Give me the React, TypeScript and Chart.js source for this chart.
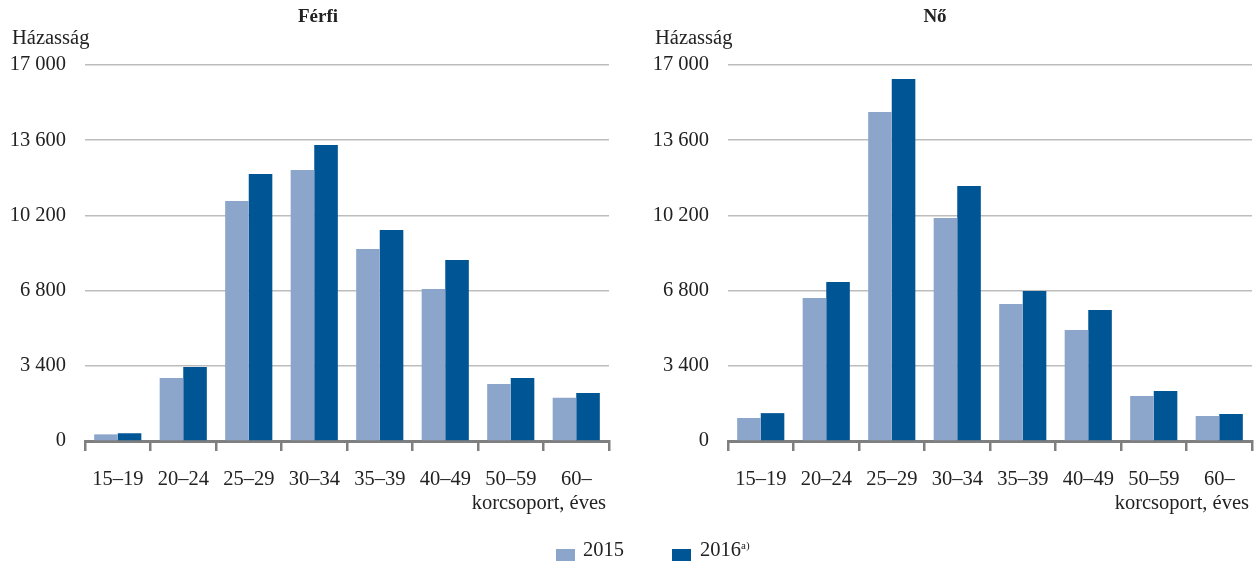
import React, { useEffect, useRef } from "react";
import { Chart, registerables } from "chart.js";

Chart.register(...registerables);

const categories = ["15–19", "20–24", "25–29", "30–34", "35–39", "40–49", "50–59", "60–"];
const seriesLabels = ["2015", "2016"];
const ferfi2015 = [300, 2850, 10850, 12250, 8680, 6870, 2580, 1950];
const ferfi2016 = [350, 3350, 12070, 13380, 9540, 8180, 2850, 2170];
const no2015 = [1040, 6470, 14870, 10080, 6190, 5020, 2030, 1130];
const no2016 = [1260, 7190, 16370, 11530, 6780, 5920, 2260, 1220];
const yTicks = [0, 3400, 6800, 10200, 13600, 17000];
const titles = ["Férfi", "Nő"];
const yAxisTitle = "Házasság";
const xAxisTitle = "korcsoport, éves";

const LIGHT = "#8ba5cb";
const DARK = "#005595";
const FONT = "'Liberation Serif', 'DejaVu Serif', serif";
const FS = 20.5;

function fmt(v: number) {
  return String(v).replace(/\B(?=(\d{3})+(?!\d))/g, " ");
}

type PanelProps = {
  left: number;
  width: number;
  plotLeft: number;
  padRight: number;
  title: string;
  titleX: number;
  yTitleX: number;
  a: number[];
  b: number[];
};

function Panel(p: PanelProps) {
  const ref = useRef<HTMLCanvasElement>(null);
  useEffect(() => {
    if (!ref.current) return;
    const textPlugin = {
      id: "texts",
      afterDraw(chart: any) {
        const ctx = chart.ctx;
        const area = chart.chartArea;
        ctx.save();
        ctx.fillStyle = "#222";
        ctx.font = `bold 19px ${FONT}`;
        ctx.textAlign = "center";
        ctx.textBaseline = "middle";
        ctx.fillText(p.title, p.titleX, 17);
        ctx.font = `${FS}px ${FONT}`;
        ctx.textAlign = "left";
        ctx.fillText(yAxisTitle, p.yTitleX, 39);
        ctx.textAlign = "right";
        ctx.fillText(xAxisTitle, area.right - 3, 504);
        ctx.restore();
      },
    };
    const chart = new Chart(ref.current, {
      type: "bar",
      data: {
        labels: categories,
        datasets: [
          { label: seriesLabels[0], data: p.a, backgroundColor: LIGHT, categoryPercentage: 0.72, barPercentage: 1 },
          { label: seriesLabels[1], data: p.b, backgroundColor: DARK, categoryPercentage: 0.72, barPercentage: 1 },
        ],
      },
      options: {
        animation: false,
        responsive: false,
        maintainAspectRatio: false,
        layout: { padding: { left: 0, right: p.padRight, top: 65, bottom: 60 } },
        plugins: { legend: { display: false }, title: { display: false }, tooltip: { enabled: false } },
        scales: {
          x: {
            grid: { display: true, drawOnChartArea: false, drawTicks: true, tickLength: 10, color: "#7f7f7f", lineWidth: 2.5, offset: true },
            border: { display: true, color: "#7f7f7f", width: 3 },
            ticks: { color: "#222", font: { family: FONT, size: FS }, padding: 16, maxRotation: 0, autoSkip: false },
            afterFit(scale: any) { scale.height = 60; },
          },
          y: {
            min: 0,
            max: 17000,
            afterBuildTicks(scale: any) { scale.ticks = yTicks.map((v) => ({ value: v })); },
            grid: { color: "#bdbdbd", lineWidth: 1.5, drawTicks: false },
            border: { display: false },
            ticks: { color: "#222", font: { family: FONT, size: FS }, padding: 19, callback: (v: any) => fmt(Number(v)) },
            afterFit(scale: any) { scale.width = p.plotLeft; },
          },
        },
      },
      plugins: [textPlugin],
    } as any);
    return () => chart.destroy();
  }, []);
  return (
    <canvas
      ref={ref}
      width={p.width}
      height={561}
      style={{ position: "absolute", left: p.left, top: 0, width: p.width, height: 561 }}
    />
  );
}

export default function App() {
  useEffect(() => {
    document.body.style.margin = "0";
  }, []);
  const sw: React.CSSProperties = { position: "absolute", top: 549, width: 19, height: 17 };
  const tx: React.CSSProperties = { position: "absolute", top: 537, fontFamily: FONT, fontSize: FS, color: "#222", lineHeight: "24px", whiteSpace: "nowrap" };
  return (
    <div style={{ position: "absolute", left: 0, top: 0, width: 1259, height: 561, background: "#fff", overflow: "hidden" }}>
      <Panel left={0} width={630} plotLeft={85} padRight={21} title={titles[0]} titleX={318} yTitleX={12} a={ferfi2015} b={ferfi2016} />
      <Panel left={630} width={629} plotLeft={98} padRight={7} title={titles[1]} titleX={305} yTitleX={25} a={no2015} b={no2016} />
      <div style={{ ...sw, left: 556, background: LIGHT }} />
      <div style={{ ...tx, left: 583 }}>{seriesLabels[0]}</div>
      <div style={{ ...sw, left: 672, background: DARK }} />
      <div style={{ ...tx, left: 700 }}>
        {seriesLabels[1]}
        <sup style={{ fontSize: 11, verticalAlign: "top", lineHeight: "16px" }}>a)</sup>
      </div>
    </div>
  );
}
